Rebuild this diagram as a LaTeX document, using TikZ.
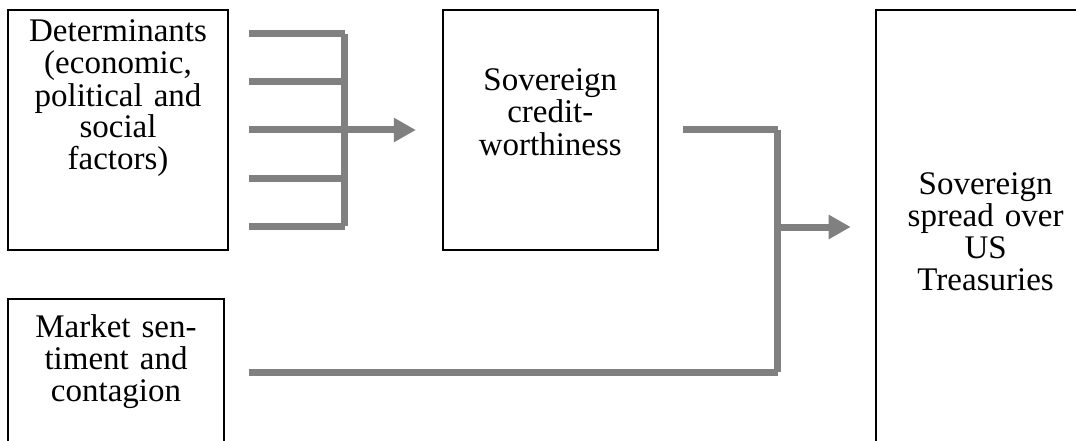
\documentclass[tikz,border=0pt]{standalone}
\usepackage{fontspec}
\setmainfont{Liberation Serif}
\usepackage{tikz}
\usetikzlibrary{arrows.meta,positioning}
\definecolor{linkgray}{RGB}{128,128,128}

\begin{document}
\begin{tikzpicture}[>={Triangle[length=11pt,width=11.5pt]},
    box/.style={draw,line width=0.9pt,inner sep=0pt,align=center,
      font=\fontsize{16.5}{16}\selectfont},
    link/.style={draw=linkgray,line width=3.5pt}]
      \useasboundingbox (0,0) rectangle (538pt,220pt);

      \node[box,text width=110pt,text height=16pt,text depth=104pt]
        (det) at (59pt,155pt) {Determinants\\(economic,\\political and\\social\\factors)};
      \node[box,text width=107.5pt,text height=40.5pt,text depth=79.5pt]
        (cred) [right=106.5pt of det] {Sovereign\\credit-\\worthiness};
      \node[box,text width=110pt,text height=92pt,text depth=125pt]
        (spread) [below right=0pt and 108pt of cred.north east] {Sovereign\\spread over\\US\\Treasuries};
      \node[box,text width=108pt,text height=19.5pt,text depth=54pt]
        (market) [below right=23.5pt and 0pt of det.south west] {Market sen-\\timent and\\contagion};

      \coordinate (j1) at ([xshift=58pt]det.east);
      \coordinate (j2) at ([xshift=59.5pt]cred.east);

      \foreach \dy in {-48,-24,0,24,48}
        \draw[link] ([shift={(10pt,\dy pt)}]det.east) -- ([yshift=\dy pt]j1);
      \draw[link] ([yshift=48pt]j1) -- ([yshift=-48pt]j1);
      \draw[link,->,shorten >=13pt] (j1) -- (cred.west);

      \draw[link,shorten <=12pt] (cred.east) -- (j2);
      \draw[link,shorten <=12pt] (market.east) -- (market.east -| j2);
      \draw[link] (j2) -- (market.east -| j2);
      \draw[link,->,shorten >=12pt] (j2 |- spread.west) -- (spread.west);
\end{tikzpicture}
\end{document}
